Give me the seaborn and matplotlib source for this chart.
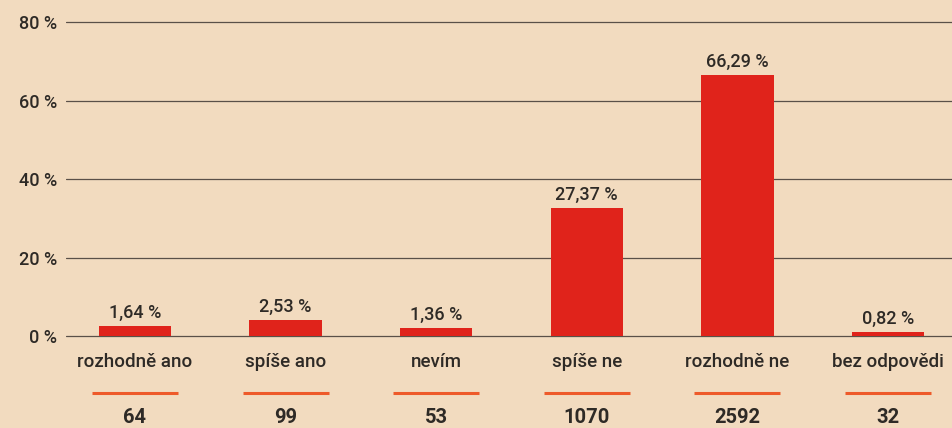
import matplotlib
matplotlib.use("Agg")
import matplotlib.pyplot as plt
import seaborn as sns

# data
kategorie = ["rozhodně ano", "spíše ano", "nevím", "spíše ne", "rozhodně ne", "bez odpovědi"]
procenta = ["1,64 %", "2,53 %", "1,36 %", "27,37 %", "66,29 %", "0,82 %"]
# bar heights as drawn in the source chart (in % of the axis)
vysky = [2.5, 4.1, 2.0, 32.6, 66.5, 1.0]
pocty = [64, 99, 53, 1070, 2592, 32]
osa_y = [0, 20, 40, 60, 80]

pozadi = "#f2dbbf"
cervena = "#e0231b"
oranzova = "#ee5a2a"
text_barva = "#2e2a26"

sns.set_style("white")
plt.rcParams["font.family"] = ["Roboto", "DejaVu Sans"]

fig = plt.figure(figsize=(9.52, 4.28), dpi=100, facecolor=pozadi)
ax = fig.add_axes([66 / 952, 0, 886 / 952, 1])
ax.set_facecolor(pozadi)

# mrizka
for v in osa_y:
    ax.axhline(v, color="#5a5048", lw=0.9, zorder=0)

sns.barplot(x=kategorie, y=vysky, color=cervena, width=0.48, saturation=1,
            linewidth=0, ax=ax, zorder=2)

ax.set_xlim(-0.458, 5.425)
ax.set_ylim(-23.4, 85.6)

ax.set_yticks(osa_y)
ax.set_yticklabels([f"{v} %" for v in osa_y], fontsize=13, color=text_barva,
                   fontweight="medium")
ax.tick_params(axis="y", length=0, pad=6.5)
ax.set_xticks([])
for s in ax.spines.values():
    s.set_visible(False)
ax.set_xlabel("")

for i, (kat, pr, h, n) in enumerate(zip(kategorie, procenta, vysky, pocty)):
    ax.annotate(pr, (i, h), xytext=(0, 5.8), textcoords="offset points",
                ha="center", va="baseline", fontsize=13, fontweight="medium",
                color=text_barva)
    ax.text(i, -7.9, kat, ha="center", va="baseline", fontsize=13.5,
            fontweight="medium", color=text_barva)
    ax.plot([i - 0.285, i + 0.285], [-14.5, -14.5], color=oranzova, lw=2.2,
            solid_capstyle="butt")
    ax.text(i, -22.1, str(n), ha="center", va="baseline", fontsize=14.5,
            fontweight="bold", color=text_barva)

fig.savefig("out.png", dpi=100, facecolor=pozadi)
